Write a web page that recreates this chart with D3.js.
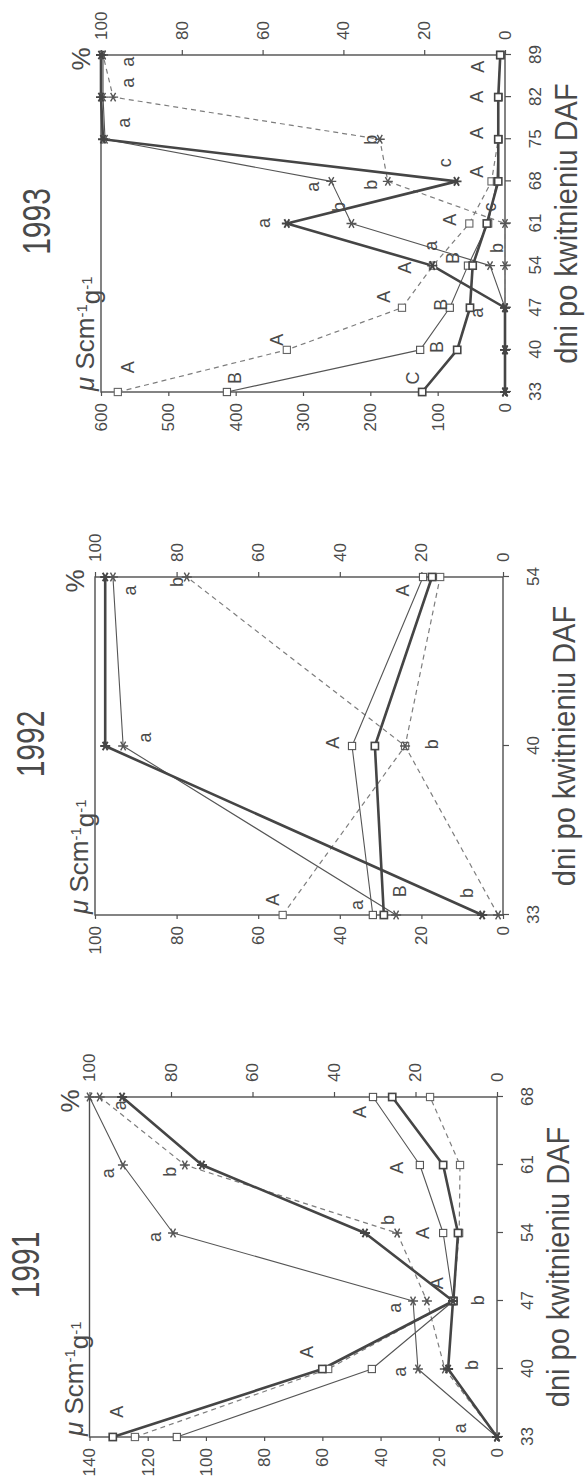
<!DOCTYPE html>
<html>
<head>
<meta charset="utf-8">
<script src="https://cdn.jsdelivr.net/npm/d3@7"></script>
<style>
  body { margin: 0; background: #fff; }
  svg { display: block; }
  text { font-family: "Liberation Sans", Arial, Helvetica, sans-serif; fill: #4a4a4a; }
</style>
</head>
<body>
<svg id="chart" width="588" height="1482"></svg>
<script>
// ---------- data ----------
// Conductivity (µS cm-1 g-1) as squares, percentage as asterisks.
// Three lines per year: thick solid, thin solid, dashed.

const days1991 = [33, 40, 47, 54, 61, 68];
const cond1991Thick  = [132, 60, 15, 13.4, 18.5, 36];
const cond1991Thin   = [110, 43, 15, 18.5, 26.5, 42.6];
const cond1991Dashed = [124.4, 58, 15, 13, 12.7, 23];
const pct1991Thick   = [0, 12, 10.8, 32.4, 72.4, 92];
const pct1991Thin    = [0, 19.4, 20.6, 79.5, 91.8, 100];
const pct1991Dashed  = [0, 12.8, 17.2, 24.5, 76.6, 97.5];
const condTicks1991  = [0, 20, 40, 60, 80, 100, 120, 140];
// significance letters: [letter, position in day steps, height in µS]
const letters1991 = [
  ["a", 0.13, 12.7], ["A", 0.37, 130.5], ["A", 1.25, 65.3], ["a", 0.96, 33.3],
  ["b", 1.06, 8.6], ["a", 1.90, 35], ["b", 2.01, 6.5], ["A", 2.26, 20.6],
  ["a", 2.94, 117.5], ["b", 3.19, 37.4], ["A", 3.0, 25.4], ["a", 3.88, 133.6],
  ["b", 3.90, 112.3], ["A", 3.96, 34.4], ["a", 4.88, 129.5], ["A", 4.78, 47]
];

const days1992 = [33, 40, 54];
const cond1992Thick  = [29.2, 31.4, 17.4];
const cond1992Thin   = [31.9, 37, 19.6];
const cond1992Dashed = [54, 24, 15.4];
const pct1992Thick   = [5.1, 97.5, 97.5];
const pct1992Thin    = [26.2, 93.1, 95.6];
const pct1992Dashed  = [1.2, 24, 77.5];
const condTicks1992  = [0, 20, 40, 60, 80, 100];
const letters1992 = [
  ["a", 1.92, 91.4], ["b", 1.97, 79.9], ["A", 1.92, 24.5], ["a", 1.05, 87.7],
  ["A", 1.02, 41.7], ["b", 1.01, 17.4], ["a", 0.06, 35.8], ["B", 0.14, 25.2],
  ["b", 0.13, 8.8], ["A", 0.09, 56.4]
];

const days1993 = [33, 40, 47, 54, 61, 68, 75, 82, 89];
const cond1993Thick  = [123, 71, 52, 48, 27, 10, 10, 10, 7];
const cond1993Thin   = [413, 126, 82, 55, 25, 12, 10, 10, 7];
const cond1993Dashed = [575, 324, 153, 107, 53, 20, 10, 10, 7];
const pct1993Thick   = [0, 0, 0, 18, 54, 12, 99.5, 100, 100];
const pct1993Thin    = [0, 0, 0, 3.7, 38, 43, 99, 99.5, 99.5];
const pct1993Dashed  = [0, 0, 0, 0, 0, 29, 31, 97, 99.5];
const condTicks1993  = [0, 100, 200, 300, 400, 500, 600];
const letters1993 = [
  ["A", 0.59, 560], ["B", 0.33, 402], ["C", 0.33, 137], ["A", 1.24, 339],
  ["B", 1.07, 101], ["A", 2.26, 180], ["B", 2.07, 95], ["a", 1.88, 42],
  ["A", 2.95, 149], ["a", 3.47, 111], ["B", 3.18, 77], ["b", 3.42, 12],
  ["A", 4.09, 82], ["b", 4.39, 247], ["a", 4.01, 358], ["c", 4.39, 22],
  ["a", 4.87, 285], ["b", 4.92, 199], ["c", 5.44, 89], ["A", 5.23, 42],
  ["b", 5.99, 200], ["A", 6.15, 42], ["a", 6.39, 567], ["a", 7.34, 560],
  ["A", 7.01, 42], ["a", 7.84, 561], ["A", 7.72, 40]
];

const pctTicks = [0, 20, 40, 60, 80, 100];
const axisTitle = "dni po kwitnieniu DAF";

// ---------- layout ----------
const panels = [
  { year: "1993", days: days1993, condMax: 600, condTicks: condTicks1993, letters: letters1993,
    cond: { thick: cond1993Thick, thin: cond1993Thin, dashed: cond1993Dashed },
    pct:  { thick: pct1993Thick,  thin: pct1993Thin,  dashed: pct1993Dashed },
    box: { left: 101, right: 505, top: 55, bottom: 392 } },
  { year: "1992", days: days1992, condMax: 100, condTicks: condTicks1992, letters: letters1992,
    cond: { thick: cond1992Thick, thin: cond1992Thin, dashed: cond1992Dashed },
    pct:  { thick: pct1992Thick,  thin: pct1992Thin,  dashed: pct1992Dashed },
    box: { left: 95, right: 503, top: 577, bottom: 915 } },
  { year: "1991", days: days1991, condMax: 140, condTicks: condTicks1991, letters: letters1991,
    cond: { thick: cond1991Thick, thin: cond1991Thin, dashed: cond1991Dashed },
    pct:  { thick: pct1991Thick,  thin: pct1991Thin,  dashed: pct1991Dashed },
    box: { left: 89.5, right: 497, top: 1097, bottom: 1437 } }
];

const ink = "#4f4f4f";
const lineStyles = {
  thick:  { w: 2.6, c: "#454545", dash: null, mw: 1.6 },
  thin:   { w: 1.1, c: "#555555", dash: null, mw: 1.1 },
  dashed: { w: 1.2, c: "#7d7d7d", dash: "5,4", mw: 1.1 }
};

const svg = d3.select("#chart");

function drawPanel(p) {
  const W = p.box.bottom - p.box.top;   // extent of the day axis
  const H = p.box.right - p.box.left;   // extent of the value axes
  // the whole panel is laid out sideways: day axis runs upward on the page
  const g = svg.append("g")
    .attr("transform", `translate(${p.box.left},${p.box.bottom}) rotate(-90)`);

  const x = d3.scalePoint().domain(p.days).range([0, W]).padding(0);
  const yC = d3.scaleLinear().domain([0, p.condMax]).range([H, 0]);
  const yP = d3.scaleLinear().domain([0, 100]).range([H, 0]);

  // frame
  g.append("rect").attr("x", 0).attr("y", 0).attr("width", W).attr("height", H)
    .attr("fill", "none").attr("stroke", ink).attr("stroke-width", 1.4);

  const axL = g.append("g")
    .call(d3.axisLeft(yC).tickValues(p.condTicks).tickSize(4).tickPadding(7).tickSizeOuter(0));
  const axR = g.append("g").attr("transform", `translate(${W},0)`)
    .call(d3.axisRight(yP).tickValues(pctTicks).tickSize(5).tickPadding(10).tickSizeOuter(0));
  const axB = g.append("g").attr("transform", `translate(0,${H})`)
    .call(d3.axisBottom(x).tickSize(6).tickPadding(18).tickSizeOuter(0));
  [axL, axR, axB].forEach(a => {
    a.select(".domain").remove();
    a.attr("font-family", null).attr("font-size", null);
    a.selectAll("line").attr("stroke", ink).attr("stroke-width", 1.2);
    a.selectAll("text").attr("fill", "#4a4a4a").style("font-size", "17px");
  });

  // series
  const line = d3.line();
  const kinds = ["dashed", "thin", "thick"];
  kinds.forEach(k => {
    const s = lineStyles[k];
    [[p.cond[k], yC], [p.pct[k], yP]].forEach(([vals, y]) => {
      g.append("path")
        .attr("d", line(p.days.map((d, i) => [x(d), y(vals[i])])))
        .attr("fill", "none").attr("stroke", s.c).attr("stroke-width", s.w)
        .attr("stroke-dasharray", s.dash).attr("stroke-linejoin", "round");
    });
  });

  const star = d3.symbol().type(d3.symbolAsterisk).size(70);
  kinds.forEach(k => {
    const s = lineStyles[k];
    g.append("g").selectAll("rect").data(p.cond[k]).join("rect")
      .attr("x", (v, i) => x(p.days[i]) - 3.6).attr("y", v => yC(v) - 3.6)
      .attr("width", 7.2).attr("height", 7.2)
      .attr("fill", "#fff").attr("stroke", s.c === "#7d7d7d" ? "#666" : s.c)
      .attr("stroke-width", s.mw);
    g.append("g").selectAll("path").data(p.pct[k]).join("path")
      .attr("transform", (v, i) => `translate(${x(p.days[i])},${yP(v)})`)
      .attr("d", star).attr("fill", "none")
      .attr("stroke", s.c === "#7d7d7d" ? "#555" : s.c).attr("stroke-width", s.mw + 0.3);
  });

  // significance letters
  const step = x.step();
  g.append("g").selectAll("text").data(p.letters).join("text")
    .attr("x", d => d[1] * step).attr("y", d => yC(d[2]))
    .attr("dy", "0.35em").attr("text-anchor", "middle")
    .style("font-size", "18px").text(d => d[0]);

  // titles
  g.append("text")
    .attr("transform", `translate(${W / 2 + 2},-51) scale(1,1.3)`)
    .attr("text-anchor", "middle").style("font-size", "30px").text(p.year);

  g.append("text")
    .attr("transform", `translate(${W / 2},${H + 72}) scale(1,1.1)`)
    .attr("text-anchor", "middle").style("font-size", "29px").text(axisTitle);

  g.append("text").attr("x", W - 4).attr("y", -11)
    .attr("text-anchor", "middle").style("font-size", "26px").text("%");

  const unit = g.append("text").attr("x", 1).attr("y", -7).style("font-size", "26px");
  unit.append("tspan").style("font-style", "italic").text("μ");
  unit.append("tspan").text(" Scm");
  unit.append("tspan").attr("dy", "-0.5em").style("font-size", "15px").text("-1");
  unit.append("tspan").attr("dy", "0.5em").text("g");
  unit.append("tspan").attr("dy", "-0.5em").style("font-size", "15px").text("-1");
}

panels.forEach(drawPanel);
</script>
</body>
</html>
